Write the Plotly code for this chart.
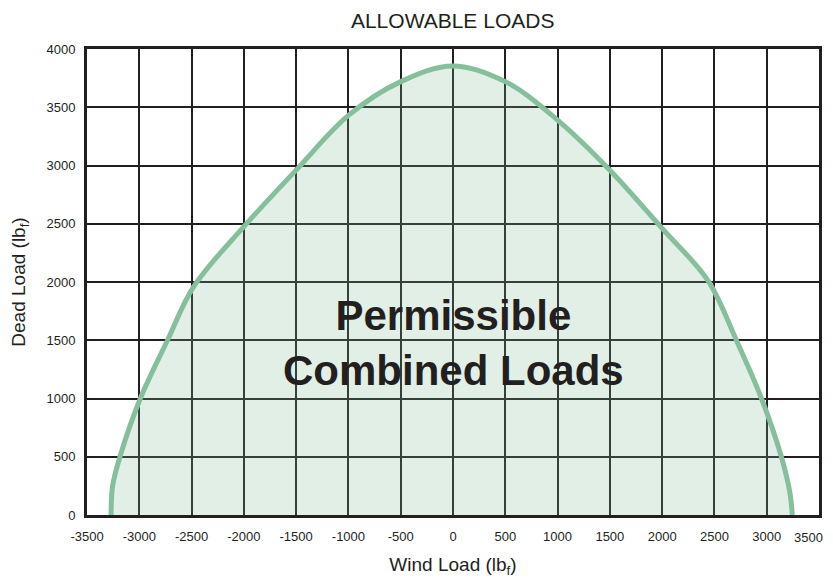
import plotly.graph_objects as go

wind_load = [-3270, -3255, -3185, -2990, -2730, -2480, -2000, -1500, -1000, -500, 0,
             500, 1000, 1500, 2000, 2440, 2710, 2950, 3140, 3220, 3245]
dead_load = [0, 250, 500, 1000, 1500, 1960, 2475, 2960, 3430, 3720, 3855,
             3720, 3390, 2960, 2460, 2010, 1500, 1000, 500, 200, 0]

x_ticks = list(range(-3500, 3501, 500))
y_ticks = list(range(0, 4001, 500))

FONT = "Liberation Sans, Arial, Helvetica, sans-serif"
INK = "#231f20"

fig = go.Figure()
fig.add_trace(go.Scatter(
    x=wind_load, y=dead_load, mode="lines",
    line=dict(color="#86bf9b", width=5, shape="spline", smoothing=1.0),
    fill="tozeroy", fillcolor="rgba(120,180,140,0.22)", hoverinfo="skip", showlegend=False,
))

fig.add_annotation(
    x=0, y=1476, xref="x", yref="y",
    text="<b>Permissible<br>Combined Loads</b>", showarrow=False,
    font=dict(family=FONT, size=42, color=INK),
)

axis_common = dict(
    showgrid=True, gridcolor=INK, gridwidth=1.8,
    showline=True, linecolor=INK, linewidth=3, mirror=True,
    zeroline=False, ticks="", layer="above traces", automargin=False,
    ticklabeloverflow="allow",
    tickfont=dict(family=FONT, size=13, color=INK),
)

fig.update_layout(
    width=825, height=570,
    margin=dict(l=79, r=14, t=41, b=63),
    paper_bgcolor="white", plot_bgcolor="white",
    title=dict(text="ALLOWABLE LOADS", x=0.539, xanchor="center", y=0.978, yanchor="middle",
               font=dict(family=FONT, size=21, color=INK)),
    xaxis=dict(range=[-3500, 3500], tickvals=x_ticks[:-1], ticktext=[str(v) for v in x_ticks[:-1]],
               ticklabelstandoff=7,
               title=dict(text="Wind Load (lb<sub>f</sub>)", standoff=24,
                          font=dict(family=FONT, size=19, color=INK)),
               **axis_common),
    yaxis=dict(range=[0, 4000], tickvals=y_ticks, ticktext=[str(v) for v in y_ticks],
               ticklabelstandoff=6,
               title=dict(text="Dead Load (lb<sub>f</sub>)", standoff=22,
                          font=dict(family=FONT, size=19, color=INK)),
               **axis_common),
)

# last x tick label placed as a right-anchored annotation so it stays inside the page
fig.add_annotation(
    x=1.0, xref="paper", xanchor="right", xshift=6,
    y=0, yref="paper", yanchor="top", yshift=-13,
    text=str(x_ticks[-1]), showarrow=False,
    font=dict(family=FONT, size=13, color=INK),
)

fig.write_html("out.html")
